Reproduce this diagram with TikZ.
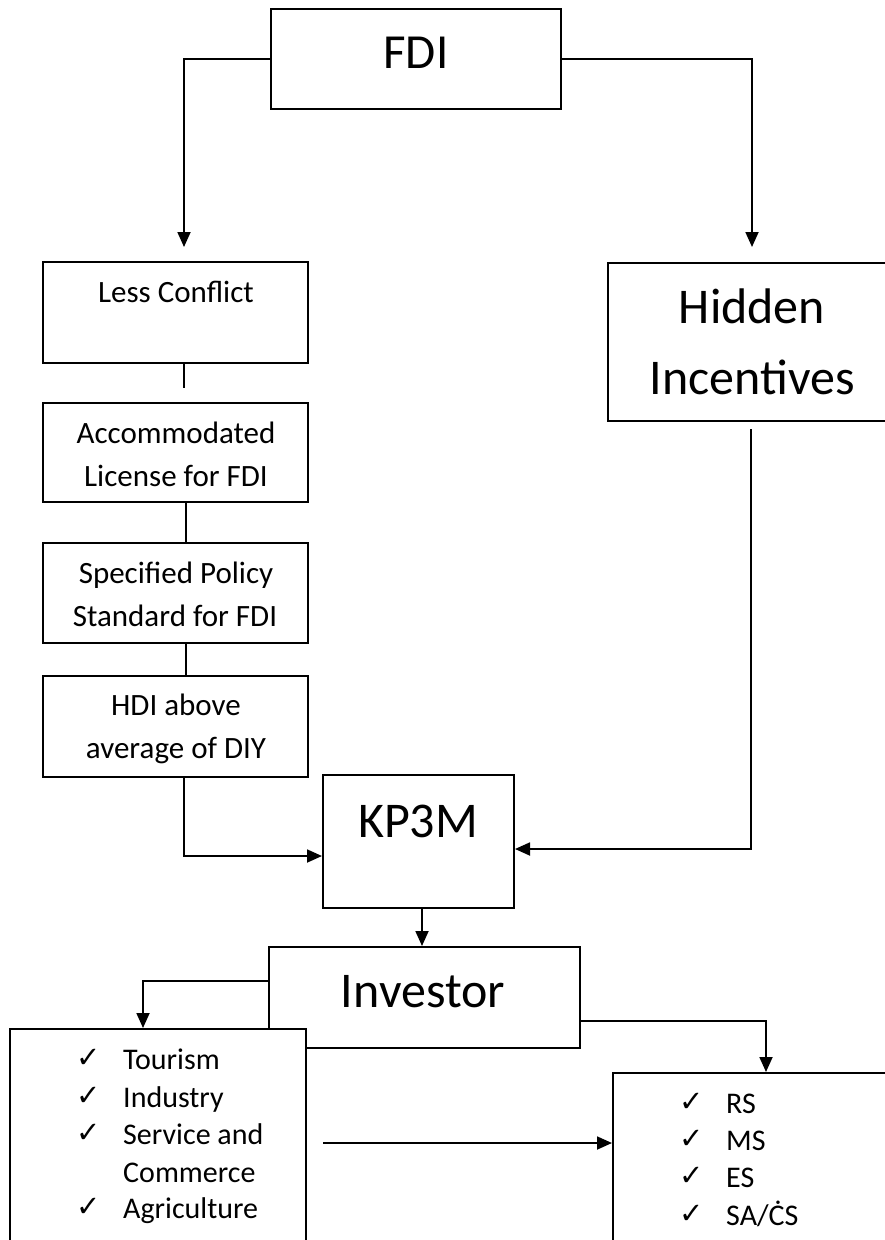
\documentclass[tikz,border=0pt]{standalone}
\usepackage{fontspec}
\setmainfont{Carlito}
\newfontfamily\chkfont{DejaVu Sans}
\usetikzlibrary{arrows.meta}
\begin{document}
\begin{tikzpicture}[x=1pt,y=-1pt,
  box/.style={draw, line width=2pt, rectangle, inner sep=0pt, fill=white},
  conn/.style={line width=1.8pt},
  arr/.style={conn, -{Triangle[length=15pt,width=13pt]}},
  txt/.style={inner sep=0pt, anchor=base},
  big/.style={txt, font=\fontsize{50}{60}\selectfont},
  mid/.style={txt, font=\fontsize{31}{40}\selectfont},
  item/.style={inner sep=0pt, anchor=base west, font=\fontsize{30}{38}\selectfont},
  chk/.style={inner sep=0pt, anchor=base, font=\chkfont\fontsize{29}{34}\selectfont},
]
\useasboundingbox (0,0) rectangle (885,1240);
\fill[white] (0,0) rectangle (885,1240);
\clip (0,0) rectangle (885,1240);

% boxes
\node[box, minimum width=290pt, minimum height=100pt] (fdi) at (416,59) {};
\node[box, minimum width=265pt, minimum height=101pt] (less) at (175.5,312.5) {};
\node[box, minimum width=265pt, minimum height=99pt] (acc) at (175.5,452.5) {};
\node[box, minimum width=265pt, minimum height=100pt] (spec) at (175.5,593) {};
\node[box, minimum width=265pt, minimum height=101pt] (hdi) at (175.5,726.5) {};
\node[box, minimum width=288pt, minimum height=158pt] (hidden) at (752,342) {};
\node[box, minimum width=191pt, minimum height=133pt] (kp3m) at (418.5,841.5) {};
\node[box, minimum width=311pt, minimum height=101pt] (inv) at (424.5,997.5) {};
\node[box, minimum width=296pt, minimum height=231pt] (leftbox) at (158,1144.5) {};
\node[box, minimum width=292pt, minimum height=187pt] (rightbox) at (759,1166.5) {};

% texts
\node[txt, font=\fontsize{49}{56}\selectfont] (tfdi) at (416,68) {FDI};
\node[mid] (tless) at (176,302) {Less Conflict};
\node[mid] (tacc1) at (176,443) {Accommodated};
\node[mid] (tacc2) at (176,486) {License for FDI};
\node[mid] (tspec1) at (176,583) {Specified Policy};
\node[mid] (tspec2) at (175,626) {Standard for FDI};
\node[mid] (thdi1) at (176,715) {HDI above};
\node[mid] (thdi2) at (176,758) {average of DIY};
\node[big] (thid1) at (752,323) {Hidden};
\node[big] (thid2) at (752,394) {Incentives};
\node[big] (tkp) at (418,837) {KP3M};
\node[big] (tinv) at (423,1007) {Investor};

% left list
\node[chk] (c1) at (89,1067) {✓};
\node[item] (i1) at (123,1069) {Tourism};
\node[chk] (c2) at (89,1105) {✓};
\node[item] (i2) at (123,1107) {Industry};
\node[chk] (c3) at (89,1142) {✓};
\node[item] (i3) at (123,1144) {Service and};
\node[item] (i4) at (123,1182) {Commerce};
\node[chk] (c5) at (89,1216) {✓};
\node[item] (i5) at (123,1218) {Agriculture};

% right list
\node[chk] (r1c) at (692,1111) {✓};
\node[item] (r1) at (726,1113) {RS};
\node[chk] (r2c) at (692,1148) {✓};
\node[item] (r2) at (726,1150) {MS};
\node[chk] (r3c) at (692,1185) {✓};
\node[item] (r3) at (726,1187) {ES};
\node[chk] (r4c) at (692,1223) {✓};
\node[item] (r4) at (726,1225) {SA/\.{C}S};

% helper coordinates
\coordinate (lx) at (184,0);
\coordinate (lx2) at (186,0);
\coordinate (hk) at (184,856);
\coordinate (rk) at (751,849);
\coordinate (kx) at (422,0);
\coordinate (iy1) at (0,981);
\coordinate (ix1) at (143,0);
\coordinate (iy2) at (0,1021);
\coordinate (ix2) at (766,0);
\coordinate (ms) at (323,1143);

% connectors
\draw[arr, shorten >=14pt] (fdi.west) -| (less.north -| lx);
\draw[arr, shorten >=15pt] (fdi.east) -| (hidden.north);
\draw[conn, shorten >=14pt] (less.south -| lx) -- (acc.north -| lx);
\draw[conn] (acc.south -| lx2) -- (spec.north -| lx2);
\draw[conn] (spec.south -| lx2) -- (hdi.north -| lx2);
\draw[arr] (hdi.south -| lx) |- (kp3m.west |- hk);
\draw[arr, shorten <=7pt] (hidden.south -| rk) |- (kp3m.east |- rk);
\draw[arr] (kp3m.south -| kx) -- (inv.north -| kx);
\draw[arr] (inv.west |- iy1) -| (leftbox.north -| ix1);
\draw[arr] (inv.east |- iy2) -| (rightbox.north -| ix2);
\draw[arr] (ms) -- (rightbox.west |- ms);
\end{tikzpicture}
\end{document}
